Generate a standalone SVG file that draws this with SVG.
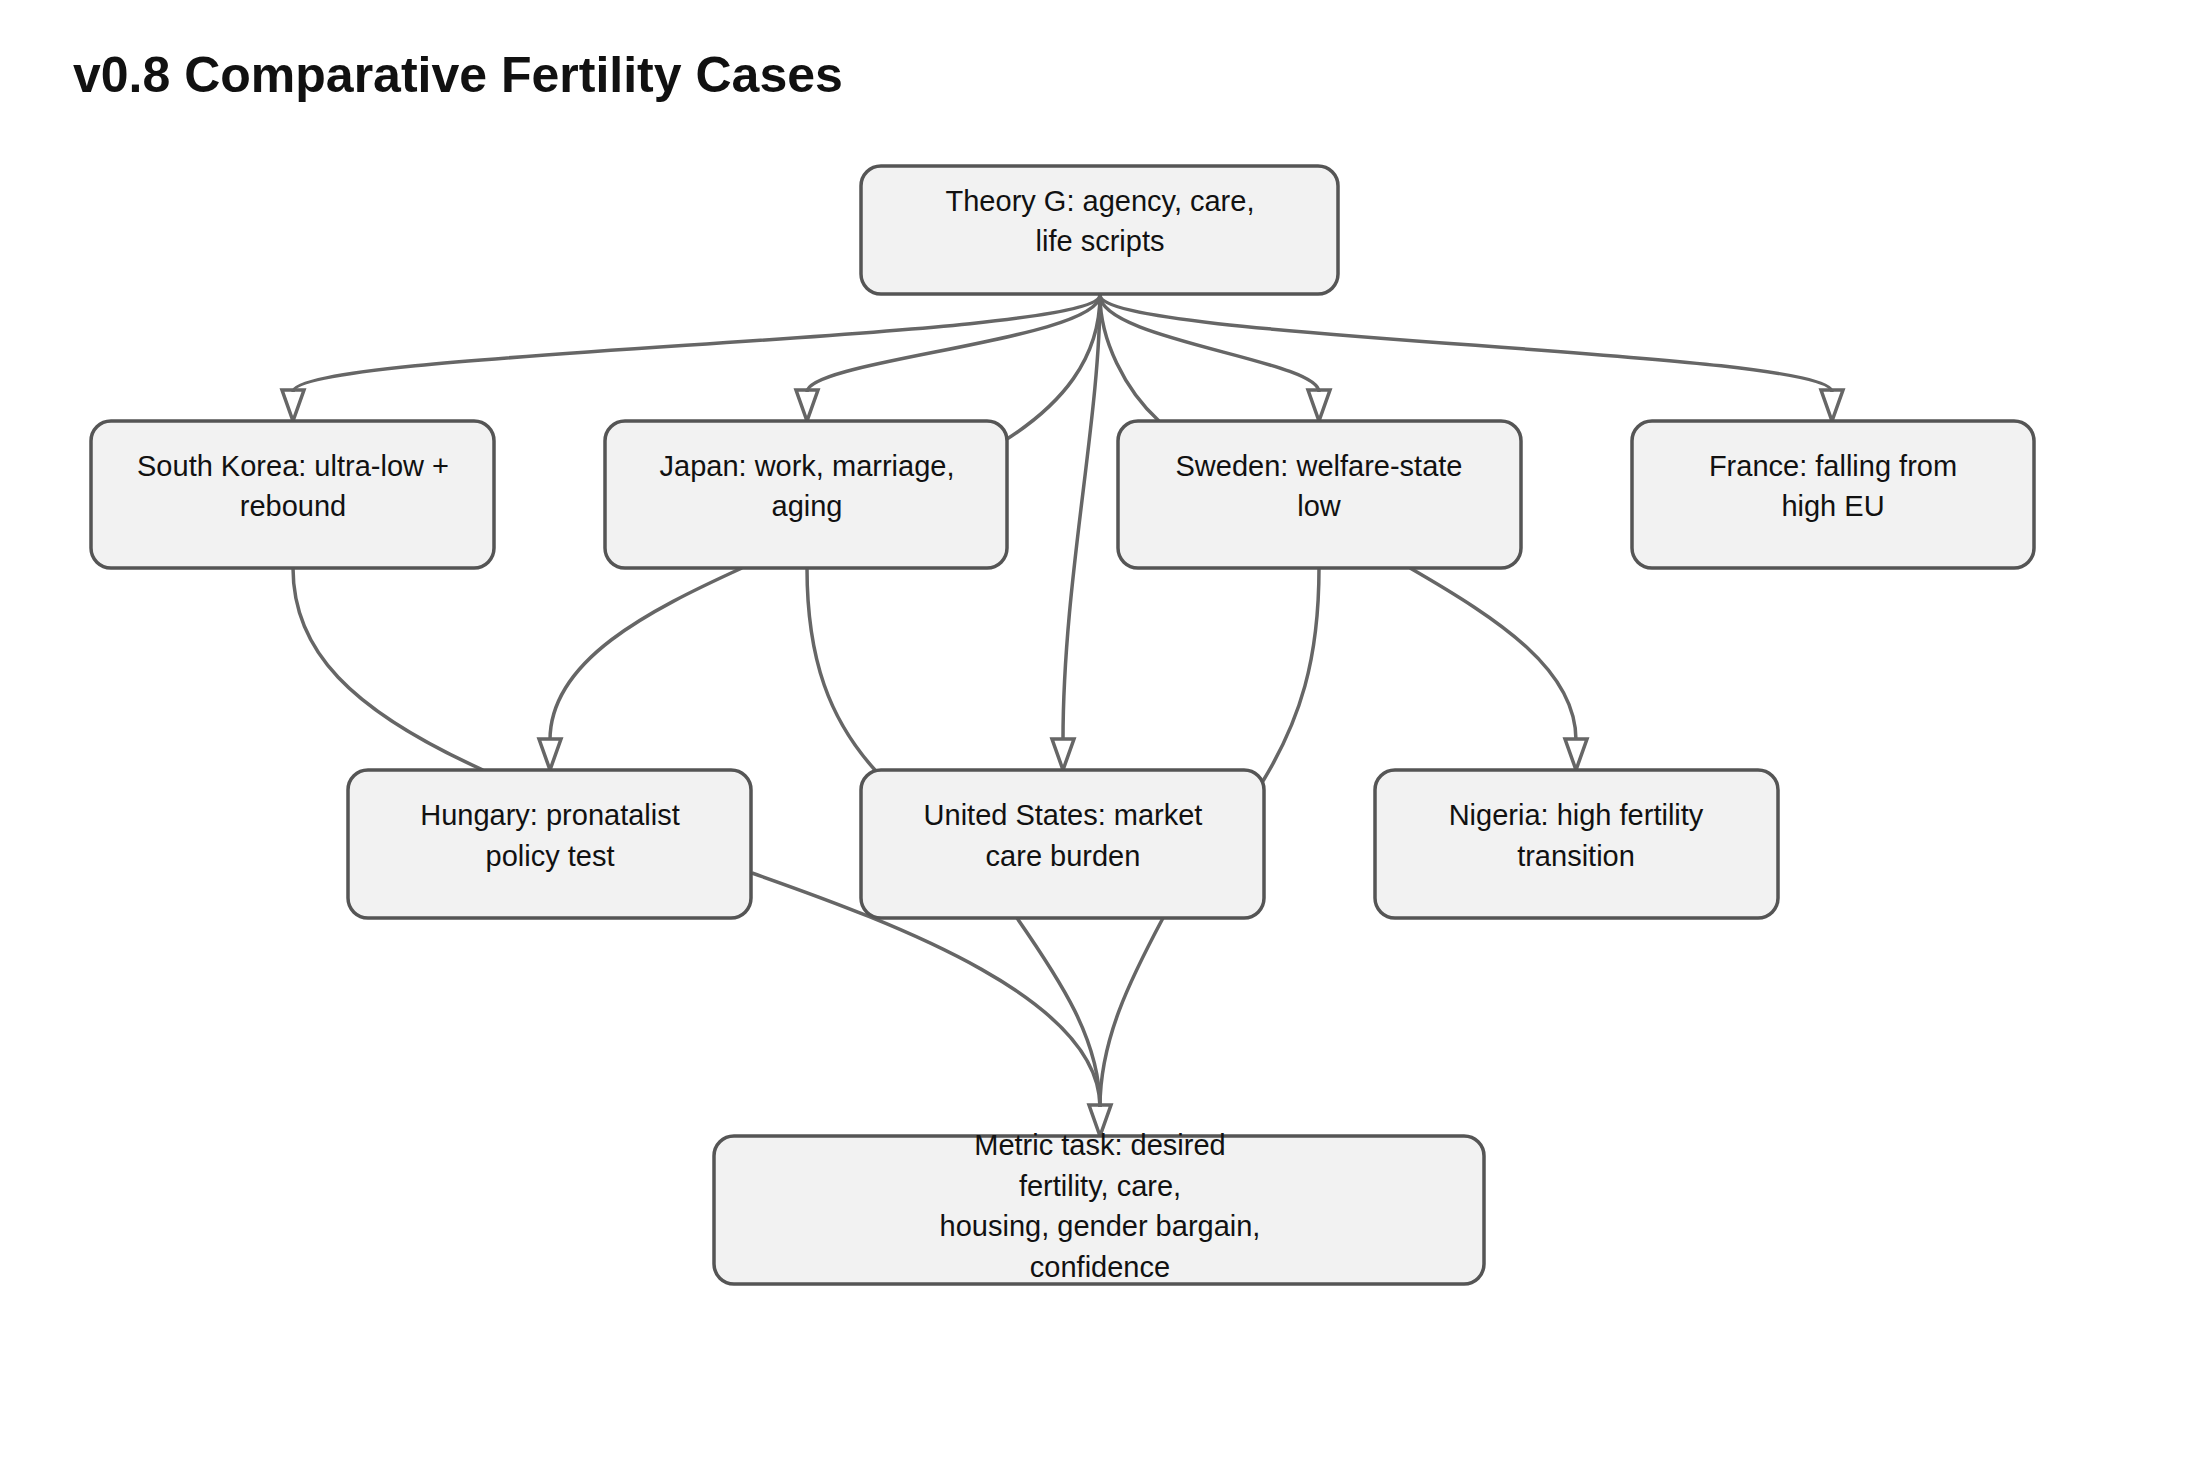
<svg xmlns="http://www.w3.org/2000/svg" width="2200" height="1467" viewBox="0 0 2200 1467">
<defs>
<style>
.n rect{fill:#f2f2f2;stroke:#555;stroke-width:3.5}
.n text{font-family:"Liberation Sans",Arial,sans-serif;font-size:29px;fill:#111;text-anchor:middle;dominant-baseline:central}
#edges path{fill:none;stroke:#666;stroke-width:3.5}
</style>
<marker id="ah" markerUnits="userSpaceOnUse" markerWidth="24" markerHeight="32" refX="11" refY="30" orient="auto-start-reverse" viewBox="0 0 22 32">
<path d="M0,0 L22,0 L11,30 Z" fill="#666" transform="rotate(0)"/>
</marker>
</defs>
<rect width="2200" height="1467" fill="#fff"/>
<text x="73" y="92" font-family="Liberation Sans,Arial,sans-serif" font-size="50" font-weight="bold" fill="#111">v0.8 Comparative Fertility Cases</text>
<g id="edges">
<path d="M1100,295 C1100,340 293,350 293,392"/>
<path d="M1100,295 C1100,340 807,360 807,392"/>
<path d="M1100,295 C1100,340 1319,360 1319,392"/>
<path d="M1100,295 C1100,340 1832,350 1832,392"/>
<path d="M1100,295 C1100,360 1060,405 1007,439"/>
<path d="M1100,295 C1100,340 1125,390 1159,421"/>
<path d="M1100,295 C1100,420 1063,580 1063,740"/>
<path d="M293,568 C293,650 350,710 483,770"/>
<path d="M742,568 C650,610 550,660 550,740"/>
<path d="M807,568 C807,660 830,720 875,770"/>
<path d="M1319,568 C1319,660 1300,720 1263,781"/>
<path d="M1410,568 C1500,620 1576,670 1576,740"/>
<path d="M752,873 C900,925 1100,1000 1100,1107"/>
<path d="M1017,918 C1060,980 1100,1040 1100,1107"/>
<path d="M1163,918 C1130,980 1100,1040 1100,1107"/>
<g fill="#666" stroke="none">
<path d="M282,390 L304,390 L293,421 Z"/>
<path d="M796,390 L818,390 L807,421 Z"/>
<path d="M1308,390 L1330,390 L1319,421 Z"/>
<path d="M1821,390 L1843,390 L1832,421 Z"/>
<path d="M1052,739 L1074,739 L1063,770 Z"/>
<path d="M539,739 L561,739 L550,770 Z"/>
<path d="M1565,739 L1587,739 L1576,770 Z"/>
<path d="M1089,1105 L1111,1105 L1100,1136 Z"/>
</g>
</g>
<g id="theory" class="n"><rect x="861" y="166" width="477" height="128" rx="20"/><text x="1100" y="201">Theory G: agency, care,</text><text x="1100" y="241">life scripts</text></g>
<g id="korea" class="n"><rect x="91" y="421" width="403" height="147" rx="20"/><text x="293" y="466">South Korea: ultra-low +</text><text x="293" y="506">rebound</text></g>
<g id="japan" class="n"><rect x="605" y="421" width="402" height="147" rx="20"/><text x="807" y="466">Japan: work, marriage,</text><text x="807" y="506">aging</text></g>
<g id="sweden" class="n"><rect x="1118" y="421" width="403" height="147" rx="20"/><text x="1319" y="466">Sweden: welfare-state</text><text x="1319" y="506">low</text></g>
<g id="france" class="n"><rect x="1632" y="421" width="402" height="147" rx="20"/><text x="1833" y="466">France: falling from</text><text x="1833" y="506">high EU</text></g>
<g id="hungary" class="n"><rect x="348" y="770" width="403" height="148" rx="20"/><text x="550" y="815">Hungary: pronatalist</text><text x="550" y="856">policy test</text></g>
<g id="us" class="n"><rect x="861" y="770" width="403" height="148" rx="20"/><text x="1063" y="815">United States: market</text><text x="1063" y="856">care burden</text></g>
<g id="nigeria" class="n"><rect x="1375" y="770" width="403" height="148" rx="20"/><text x="1576" y="815">Nigeria: high fertility</text><text x="1576" y="856">transition</text></g>
<g id="metric" class="n"><rect x="714" y="1136" width="770" height="148" rx="20"/><text x="1100" y="1145">Metric task: desired</text><text x="1100" y="1186">fertility, care,</text><text x="1100" y="1226">housing, gender bargain,</text><text x="1100" y="1267">confidence</text></g>
</svg>
